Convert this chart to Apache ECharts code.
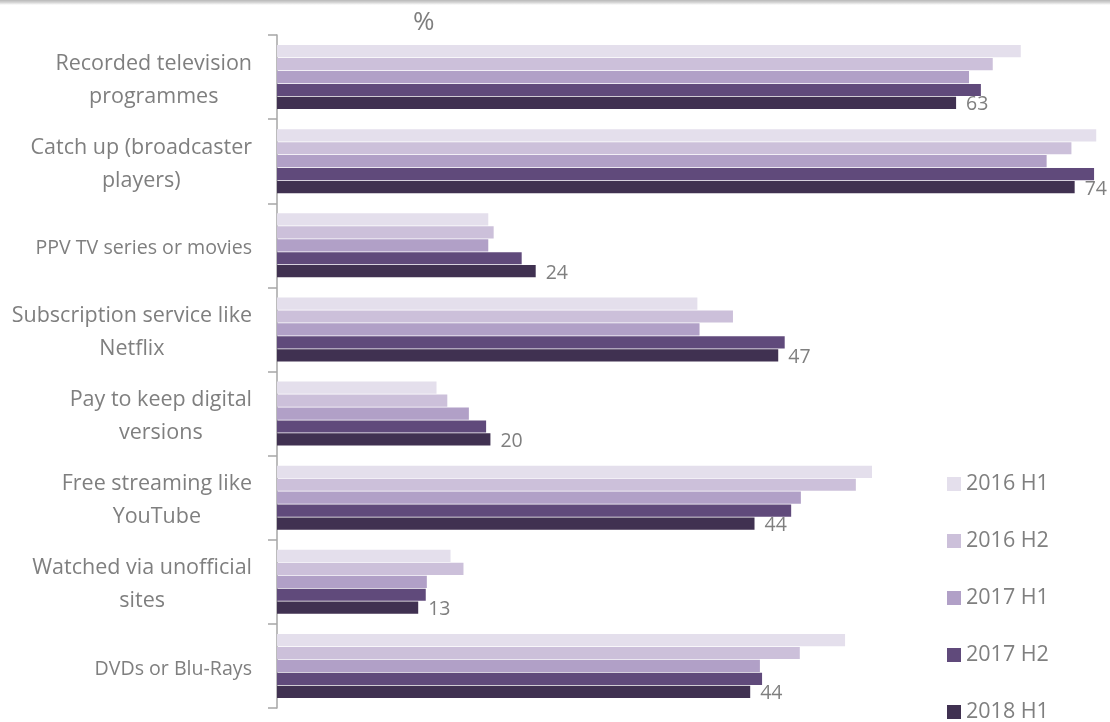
<!DOCTYPE html>
<html>
<head>
<meta charset="utf-8">
<script src="https://cdn.jsdelivr.net/npm/echarts@6/dist/echarts.min.js"></script>
<style>
  html, body { margin: 0; padding: 0; background: #fff; }
  #topline { position: absolute; left: 0; top: 0; width: 1110px; height: 5px;
    background: linear-gradient(#b8b8b8, #d6d6d6 50%, #ffffff); }
  #chart { width: 1110px; height: 722px; }
</style>
</head>
<body>
<div id="topline"></div>
<div id="chart"></div>
<script>
// categories, top to bottom
var categories = [
  'Recorded television\nprogrammes',
  'Catch up (broadcaster\nplayers)',
  'PPV TV series or movies',
  'Subscription service like\nNetflix',
  'Pay to keep digital\nversions',
  'Free streaming like\nYouTube',
  'Watched via unofficial\nsites',
  'DVDs or Blu-Rays'
]
var seriesNames = ['2016 H1', '2016 H2', '2017 H1', '2017 H2', '2018 H1']
var colors = ['#e4dfec', '#ccc0da', '#b1a0c7', '#604a7b', '#403151']

// values (%)
var h1_2016 = [69, 76, 19.6, 39, 14.8, 55.2, 16.1, 52.7]
var h2_2016 = [66.4, 73.7, 20.1, 42.3, 15.8, 53.7, 17.3, 48.5]
var h1_2017 = [64.2, 71.4, 19.6, 39.2, 17.8, 48.6, 13.9, 44.8]
var h2_2017 = [65.3, 75.8, 22.7, 47.1, 19.4, 47.7, 13.8, 45]
var h1_2018 = [63, 74, 24, 46.5, 19.8, 44.3, 13.1, 43.9]
var labels2018 = [63, 74, 24, 47, 20, 44, 13, 44]

var allData = [h1_2016, h2_2016, h1_2017, h2_2017, h1_2018]
var textGray = '#7f7f7f'
var fontName = '"Open Sans", sans-serif'

var myChart = echarts.init(document.getElementById('chart'))

var series = seriesNames.map(function (name, i) {
  var s = {
    name: name,
    type: 'bar',
    data: allData[i],
    barGap: '6%',
    barCategoryGap: '24%',
    itemStyle: { color: colors[i] },
    emphasis: { disabled: true }
  }
  // 只有 2018 H1 显示数值
  if (i === 4) {
    s.label = {
      show: true,
      position: 'right',
      distance: 10,
      offset: [0, 2],
      color: textGray,
      fontSize: 19.5,
      fontFamily: fontName,
      formatter: function (p) { return labels2018[p.dataIndex] }
    }
  }
  return s
})

var option = {
  animation: false,
  color: colors,
  title: {
    text: '%',
    left: 408,
    top: 5,
    textStyle: { color: textGray, fontSize: 26, fontWeight: 'normal', fontFamily: fontName }
  },
  legend: {
    orient: 'vertical',
    left: 947,
    top: 473,
    height: 270,
    padding: 0,
    itemWidth: 14,
    itemHeight: 14,
    itemGap: 35,
    icon: 'rect',
    data: seriesNames,
    textStyle: { color: textGray, fontSize: 21.5, fontFamily: fontName }
  },
  grid: {
    left: 277,
    right: 3,
    top: 35,
    bottom: 14,
    containLabel: false
  },
  xAxis: {
    type: 'value',
    min: 0,
    max: 77,
    show: false
  },
  yAxis: {
    type: 'category',
    inverse: true,
    data: categories,
    axisLine: { show: true, lineStyle: { color: '#a6a6a6', width: 1.5 } },
    axisTick: { show: true, length: 9, lineStyle: { color: '#a6a6a6', width: 1.5 } },
    axisLabel: {
      margin: 25,
      color: textGray,
      fontSize: 20,
      fontFamily: fontName,
      lineHeight: 33,
      formatter: function (v) {
        var lines = v.split('\n')
        var key = lines.length > 1 ? 'c' : 's'
        return lines.map(function (l) { return '{' + key + '|' + l + '}' }).join('\n')
      },
      rich: {
        c: { align: 'center', color: textGray, fontSize: 21.5, fontFamily: fontName, lineHeight: 33, padding: [6, 0, 0, 0] },
        s: { align: 'center', color: textGray, fontSize: 19.6, fontFamily: fontName, lineHeight: 33, padding: [6, 0, 0, 0] }
      }
    }
  },
  series: series
}
myChart.setOption(option)
</script>
</body>
</html>
